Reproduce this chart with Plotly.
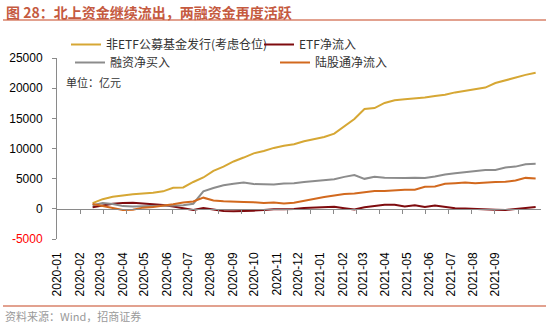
import plotly.graph_objects as go
import pandas as pd

# ---- data (unit: 亿元) ----
dates = pd.date_range("2020-02-19", periods=45, freq="14D")

fund_issue = [950, 1600, 2000, 2250, 2400, 2550, 2650, 2900, 3500, 3550,
              4450, 5200, 6300, 7000, 7850, 8500, 9200, 9600, 10100, 10450,
              10700, 11200, 11550, 11900, 12470, 13700, 14900, 16560, 16700, 17550,
              18000, 18150, 18250, 18450, 18700, 18900, 19300, 19550, 19800, 20100,
              20850, 21300, 21800, 22200, 22550]

etf_inflow = [250, 500, 850, 950, 990, 900, 820, 620, 400, 50,
              -200, 150, -150, -350, -380, -380, -300, -200, -50, -50,
              -20, 150, 250, 300, 330, 100, -100, 250, 450, 660,
              660, 400, 600, 300, 550, 300, 100, 50, -50, -50,
              -150, -200, 0, 100, 300]

margin_buy = [600, 950, 800, 450, 380, 420, 450, 480, 520, 600,
              850, 2900, 3450, 3900, 4150, 4350, 4100, 4050, 4050, 4200,
              4250, 4450, 4600, 4750, 4900, 5300, 5600, 4970, 5300, 5150,
              5100, 5100, 5150, 5130, 5350, 5700, 5900, 6100, 6250, 6450,
              6450, 6850, 7000, 7400, 7480]

northbound = [800, 500, 100, -200, -150, 200, 320, 500, 750, 1050,
              1230, 1850, 1400, 1260, 1260, 1150, 1090, 950, 1050, 880,
              1000, 1350, 1700, 1950, 2200, 2450, 2530, 2700, 2950, 2950,
              3100, 3150, 3150, 3650, 3700, 4150, 4250, 4380, 4250, 4400,
              4450, 4470, 4700, 5130, 5030]

series_names = ["非ETF公募基金发行(考虑仓位)", "ETF净流入", "融资净买入", "陆股通净流入"]
month_ticks = pd.date_range("2020-01-01", "2021-09-01", freq="MS")
month_labels = [d.strftime("%Y-%m") for d in month_ticks]
y_ticks = [-5000, 0, 5000, 10000, 15000, 20000, 25000]
y_labels = ['<span style="color:#FF0000">-5000</span>'] + [str(v) for v in y_ticks[1:]]

# ---- layout geometry ----
W, H = 550, 323
PL, PR, PT, PB = 57, 541, 58, 239          # plot area in px
PW, PH = PR - PL, PB - PT


def px_x(px):
    return (px - PL) / PW


def px_y(py):
    return (PB - py) / PH


days_per_px = 1.3904
x_start = pd.Timestamp("2019-12-31 12:00")
x_end = x_start + pd.Timedelta(days=PW * days_per_px)
minor_ticks = [x_start + pd.Timedelta(days=23.05 * j * days_per_px) for j in range(1, 21)]

colors = ["#D6A734", "#7E0B0E", "#8C8C8C", "#D2691E"]
CJK = "Noto Sans CJK SC"

fig = go.Figure()
for name, vals, col, lg in zip(series_names, [fund_issue, etf_inflow, margin_buy, northbound],
                               colors, ["legend", "legend", "legend2", "legend2"]):
    fig.add_trace(go.Scatter(x=dates, y=vals, mode="lines", name=name,
                             line=dict(color=col, width=2), legend=lg))

# invisible trace so the zero-crossing axis is drawn
fig.add_trace(go.Scatter(x=[x_start], y=[0], xaxis="x2", mode="markers",
                         marker=dict(opacity=0), showlegend=False, hoverinfo="skip"))

fig.update_layout(
    width=W, height=H,
    margin=dict(l=PL, r=W - PR, t=PT, b=H - PB, autoexpand=False),
    paper_bgcolor="white", plot_bgcolor="white",
    font=dict(family="Liberation Sans, Arial", size=12, color="#000000"),
    showlegend=True,
    xaxis=dict(type="date", range=[x_start, x_end], showgrid=False, zeroline=False,
               showline=False, ticks="", tickmode="array", tickvals=month_ticks,
               ticktext=month_labels, tickangle=-90, ticklabelstandoff=10,
               automargin=False,
               tickfont=dict(family="Liberation Sans, Arial", size=12, color="#000000")),
    xaxis2=dict(type="date", range=[x_start, x_end], overlaying="x", anchor="free",
                position=1 / 6, showgrid=False, zeroline=False, showline=True,
                linecolor="#8A8A8A", linewidth=1, ticks="outside", ticklen=4,
                tickcolor="#8A8A8A", tickmode="array", tickvals=minor_ticks,
                showticklabels=False),
    yaxis=dict(range=[-5000, 25000], showgrid=False, zeroline=False, showline=True,
               linecolor="#8A8A8A", linewidth=1, ticks="outside", ticklen=4,
               tickcolor="#8A8A8A", tickmode="array", tickvals=y_ticks, ticktext=y_labels,
               ticklabelstandoff=7, automargin=False,
               tickfont=dict(family="Liberation Sans, Arial", size=12, color="#000000")),
    legend=dict(orientation="h", xref="paper", yref="paper", x=px_x(66), y=px_y(30),
                xanchor="left", yanchor="top", bgcolor="rgba(0,0,0,0)",
                font=dict(family=CJK, size=12, color="#333333"), entrywidth=148,
                tracegroupgap=0),
    legend2=dict(orientation="h", xref="paper", yref="paper", x=px_x(70), y=px_y(48),
                 xanchor="left", yanchor="top", bgcolor="rgba(0,0,0,0)",
                 font=dict(family=CJK, size=12, color="#333333"), entrywidth=160,
                 tracegroupgap=0),
)

title_col = "#C55A3F"
fig.add_annotation(text="<b>图 28：北上资金继续流出，两融资金再度活跃</b>", xref="paper", yref="paper",
                   x=px_x(4), y=px_y(12), showarrow=False, xanchor="left", yanchor="middle",
                   font=dict(family=CJK, size=14, color=title_col))
fig.add_annotation(text="单位：亿元", xref="paper", yref="paper", x=px_x(64), y=px_y(82),
                   showarrow=False, xanchor="left", yanchor="middle",
                   font=dict(family=CJK, size=11, color="#333333"))
fig.add_annotation(text="资料来源：Wind，招商证券", xref="paper", yref="paper", x=px_x(3), y=px_y(316),
                   showarrow=False, xanchor="left", yanchor="middle",
                   font=dict(family=CJK, size=11, color="#9A9A9A"))

fig.add_shape(type="line", xref="paper", yref="paper", x0=px_x(3), x1=px_x(546),
              y0=px_y(20), y1=px_y(20), line=dict(color="#D9826A", width=1.5))
fig.add_shape(type="line", xref="paper", yref="paper", x0=px_x(3), x1=px_x(546),
              y0=px_y(306), y1=px_y(306), line=dict(color="#D9826A", width=1.5))

fig.write_html("out.html")
